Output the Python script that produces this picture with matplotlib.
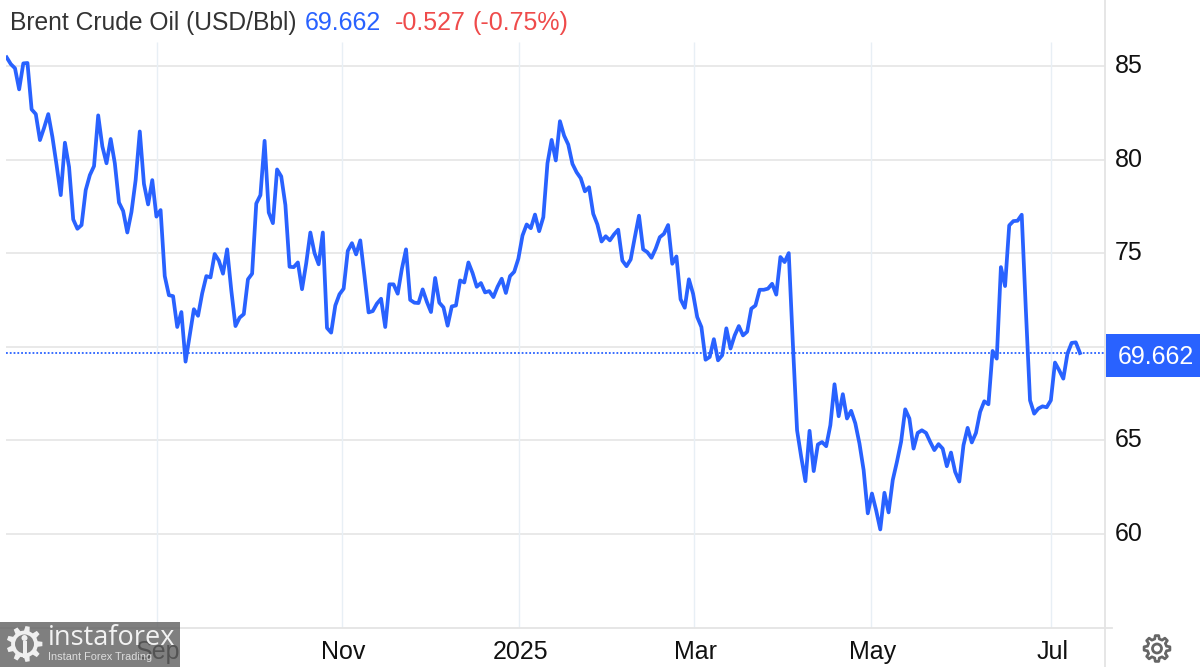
import numpy as np
import matplotlib
matplotlib.use("Agg")
import matplotlib.pyplot as plt
from matplotlib.patches import Polygon, Rectangle, Circle
from matplotlib.lines import Line2D
from matplotlib.transforms import Affine2D

plt.rcParams['font.family'] = ['Liberation Sans', 'DejaVu Sans']

TITLE = "Brent Crude Oil (USD/Bbl)"
LAST_LABEL = "69.662"
CHANGE_LABEL = "-0.527"
CHANGE_PCT_LABEL = "(-0.75%)"
LAST_VALUE = 69.662

prices_2024_a = [
    85.46, 85.1, 84.88, 83.75, 85.14, 85.16, 82.68, 82.43, 81.04, 81.7,
    82.43, 81.2, 79.7, 78.1, 80.9, 79.6, 76.8, 76.3, 76.5, 78.37,
    79.17, 79.65, 82.36, 80.7, 79.8, 81.1, 79.8, 77.7, 77.25, 76.1,
    77.2, 78.9, 81.5, 78.7, 77.6, 78.9, 76.95, 77.3, 73.77, 72.75,
    72.7, 71.05, 71.85, 69.2, 70.6, 72.0, 71.65, 72.85, 73.77, 73.7,
    74.95, 74.6, 73.9, 75.2, 73.0, 71.1, 71.55, 71.74, 73.6, 73.9,
    77.65, 78.1, 81.0, 77.17, 76.6, 79.47, 79.1, 77.57, 74.27, 74.25,
    74.5, 73.07, 74.45, 76.1, 75.0, 74.4, 76.1, 71.0, 70.75, 72.2,
    72.8, 73.1, 75.12,
]
prices_2024_b = [
    75.53, 74.93, 75.68, 73.8, 71.83, 71.9, 72.3, 72.56, 71.05, 73.33,
    73.33, 72.83, 74.16, 75.2, 72.5, 72.35, 72.33, 73.06, 72.4, 71.85,
    73.67, 72.35, 72.1, 71.12, 72.15, 72.2, 73.54, 73.43, 74.5, 73.93,
    73.2, 73.4, 72.9, 72.97, 72.65, 73.2, 73.63, 72.87, 73.77, 74.0,
]
prices_2025_a = [
    74.7, 75.94, 76.53, 76.33, 77.06, 76.17, 76.92, 79.8, 81.05, 79.95,
    82.05, 81.28, 80.8, 79.77, 79.32, 79.0, 78.3, 78.52, 77.1, 76.53,
    75.62, 75.9, 75.68, 76.0, 76.25, 74.6, 74.3, 74.66, 75.85, 77.0,
    75.2, 75.05, 74.75, 75.23, 75.85, 76.03, 76.5, 74.43, 74.82, 72.53,
    72.08, 73.6, 72.83, 71.58, 71.05, 69.3, 69.45, 70.4, 69.27, 69.54,
    70.98, 69.9, 70.6, 71.1, 70.6, 70.8,
]
prices_2025_b = [
    72.03, 72.2, 73.04, 73.04, 73.1, 73.36, 72.78, 74.79, 74.52, 75.0,
    70.1, 65.53, 64.1, 62.81, 65.5, 63.35, 64.77, 64.9, 64.68, 65.8,
    67.99, 66.28, 67.46, 66.16, 66.57, 65.9, 64.82, 63.4, 61.09, 62.15,
    61.26, 60.23, 62.19, 61.14, 62.87, 63.84, 64.91, 66.65, 66.16, 64.55,
    65.39, 65.53, 65.39, 64.91, 64.47, 64.79, 64.55, 63.61, 64.34, 63.31,
    62.79, 64.73, 65.66, 64.88, 65.39, 66.51, 67.08, 66.92, 69.77, 69.36,
    74.25, 73.24, 76.48, 76.71, 76.73, 77.05, 71.94, 67.13, 66.42, 66.69,
    66.81, 66.76, 67.13, 69.15, 68.74, 68.29, 69.63, 70.2, 70.23, 69.66,
]
prices = prices_2024_a + prices_2024_b + prices_2025_a + prices_2025_b

x_tick_positions = [36.1, 80.6, 123.1, 165.2, 207.8, 251.0]
x_tick_labels = ["Sep", "Nov", "2025", "Mar", "May", "Jul"]
y_grid = [60, 65, 70, 75, 80, 85]
y_tick_labels = [60, 65, 75, 80, 85]   # 70 sits behind the last-value box

W, H = 1200, 667
BLUE = "#2962FF"
fig = plt.figure(figsize=(W / 100, H / 100), dpi=100, facecolor="white")
# overlay transform working in reference pixels, origin at top-left
px = Affine2D().scale(1 / W, -1 / H).translate(0, 1) + fig.transFigure

L, R, T, B = 6, 1105, 0, 628
ax = fig.add_axes([L / W, 1 - B / H, (R - L) / W, (B - T) / H])
step = 4.16
ax.set_xlim(0 - (6.67 - L) / step, (R - 6.67) / step)
ppu = 18.71
ax.set_ylim(85 - (B - 66) / ppu, 85 + (66 - T) / ppu)

for s in ("top", "left", "right", "bottom"):
    ax.spines[s].set_visible(False)

ax.set_yticks(y_grid)
ax.set_xticks(x_tick_positions)
ax.tick_params(length=0)
ax.set_yticklabels([])
ax.set_xticklabels([])
ax.grid(False)

ax.hlines(y_grid, ax.get_xlim()[0], ax.get_xlim()[1], color="#e7e7e7", lw=1.3, zorder=1)
ymax_grid = 85 + (66 - 42) / ppu
ax.vlines(x_tick_positions, ax.get_ylim()[0], ymax_grid, color="#e8eff5", lw=1.0, zorder=1)
ax.axhline(LAST_VALUE, color=BLUE, lw=1.3, ls=(0, (1, 1.1)), zorder=2)
ax.plot(range(len(prices)), prices, color=BLUE, lw=2.7, solid_joinstyle="round", zorder=3)

# axis frame lines
fig.add_artist(Line2D([0, 1112], [628, 628], color="#e4e4e4", lw=1.3, transform=px))
fig.add_artist(Line2D([1105, 1105], [0, 667], color="#e4e4e4", lw=1.3, transform=px))

# title row
FS = 18
tkw = dict(transform=px, fontsize=FS, va="center", ha="left")
fig.text(9.5, 23, TITLE, color="#333333", transform=px, fontsize=17.7, va="center", ha="left")
fig.text(305, 23, LAST_LABEL, color=BLUE, **tkw)
fig.text(395, 23, CHANGE_LABEL, color="#EF4B4B", **tkw)
fig.text(472, 23, CHANGE_PCT_LABEL, color="#EF4B4B", **tkw)

# y tick labels
for v in y_tick_labels:
    y = 66 + (85 - v) * ppu
    fig.text(1115, y, str(v), transform=px, fontsize=FS, va="center", ha="left", color="#111111")

# last value label
fig.add_artist(Rectangle((1106, 334), 94, 43, transform=px, facecolor=BLUE, edgecolor="none"))
fig.text(1118, 357, LAST_LABEL, transform=px, fontsize=FS, va="center", ha="left", color="white", zorder=5)

# x tick labels
for pos, lab in zip(x_tick_positions, x_tick_labels):
    xp = 6.67 + pos * step
    fig.text(xp + 1.5, 652, lab, transform=px, fontsize=FS, va="center", ha="center", color="#111111", zorder=2)


def gear(cx, cy, r_out, r_in, teeth):
    pts = []
    for i in range(teeth):
        a0 = 2 * np.pi * i / teeth
        w = 2 * np.pi / teeth
        for da, r in [(-0.30, r_in), (-0.17, r_out), (0.17, r_out), (0.30, r_in)]:
            a = a0 + da * w
            pts.append((cx + r * np.cos(a), cy + r * np.sin(a)))
    return pts


# settings gear
fig.add_artist(Polygon(gear(1157, 648.5, 13, 9.8, 8), closed=True, transform=px,
                       facecolor="none", edgecolor="#666666", lw=2.0, joinstyle="round"))
fig.add_artist(Circle((1157, 648.5), 4.5, transform=px, facecolor="none", edgecolor="#666666", lw=2.0))

# watermark
fig.add_artist(Rectangle((0, 622), 180, 45, transform=px, facecolor="#636363", alpha=0.82,
                         edgecolor="none", zorder=10))
fig.add_artist(Polygon(gear(24.5, 644, 18, 13.5, 9), closed=True, transform=px,
                       facecolor="#efefef", edgecolor="none", zorder=11))
fig.add_artist(Circle((24.5, 644), 9.5, transform=px, facecolor="#808080", edgecolor="none", zorder=12))
fig.add_artist(Circle((24.5, 638), 3, transform=px, facecolor="#efefef", edgecolor="none", zorder=13))
fig.add_artist(Rectangle((22.5, 641), 4, 17, transform=px, facecolor="#efefef", edgecolor="none", zorder=13))
fig.text(48, 638, "instaforex", transform=px, fontsize=19.5, va="center", ha="left",
         color="#f2f2f2", zorder=14, family=["Open Sans", "DejaVu Sans"])
fig.text(48, 657.5, "Instant Forex Trading", transform=px, fontsize=7.9, va="center", ha="left",
         color="#dddddd", zorder=14)

fig.savefig("out.png", dpi=100)
